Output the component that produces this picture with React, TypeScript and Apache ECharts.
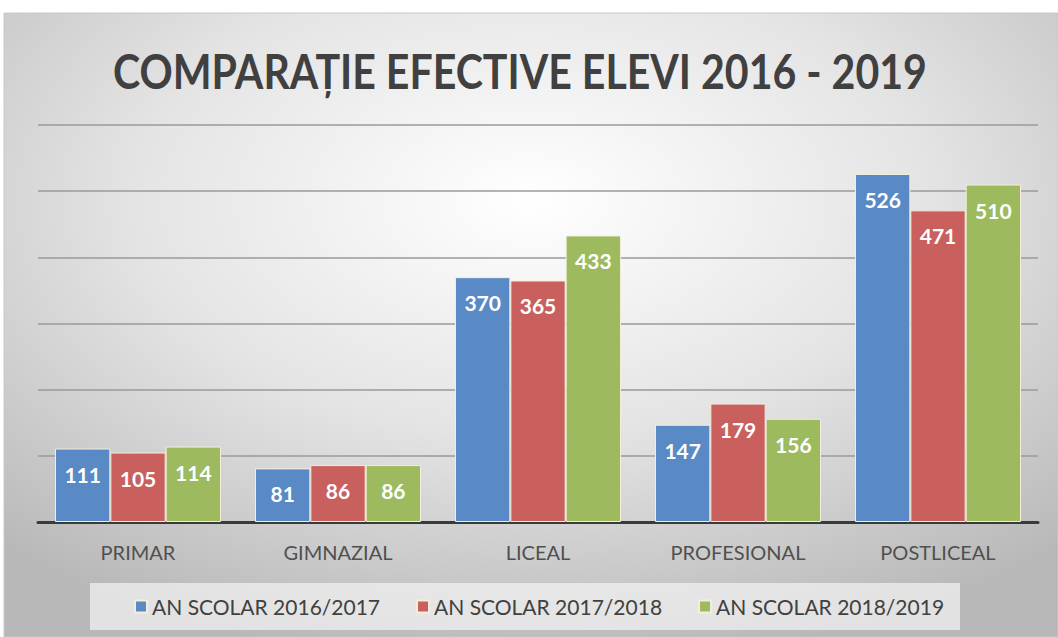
import React, { useEffect, useRef } from "react";
import * as echarts from "echarts";

const titleText = "COMPARAȚIE EFECTIVE ELEVI 2016 - 2019";
const categories = ["PRIMAR", "GIMNAZIAL", "LICEAL", "PROFESIONAL", "POSTLICEAL"];
const seriesNames = ["AN SCOLAR 2016/2017", "AN SCOLAR 2017/2018", "AN SCOLAR 2018/2019"];
const values2016 = [111, 81, 370, 147, 526];
const values2017 = [105, 86, 365, 179, 471];
const values2018 = [114, 86, 433, 156, 510];
const colors = ["#5a8ac6", "#c9605d", "#9dbb5e"];

export default function App() {
  const ref = useRef<HTMLDivElement>(null);
  useEffect(() => {
    if (!ref.current) return;
    const chart = echarts.init(ref.current, undefined, { renderer: "svg" });
    const data = [values2016, values2017, values2018];
    chart.setOption({
      animation: false,
      backgroundColor: "#ffffff",
      graphic: [
        {
          type: "rect",
          z: -10,
          silent: true,
          shape: { x: 4, y: 13, width: 1054, height: 624 },
          style: {
            fill: new echarts.graphic.RadialGradient(0.5, 0.3, 0.75, [
              { offset: 0, color: "#ffffff" },
              { offset: 0.5, color: "#e4e4e4" },
              { offset: 1, color: "#b8b8b8" },
            ]),
            stroke: "#c8c8c8",
            lineWidth: 1,
          },
        },
        {
          type: "rect",
          z: -5,
          silent: true,
          shape: { x: 90, y: 583, width: 870, height: 47 },
          style: { fill: "rgba(240,240,240,0.75)" },
        },
        {
          type: "text",
          x: 113,
          y: 47,
          scaleX: 0.856,
          style: {
            text: titleText,
            fontFamily: "Lato",
            fontWeight: "bold",
            fontSize: 48,
            fill: "#404040",
          },
        },
      ],
      legend: {
        data: seriesNames,
        top: 591,
        left: 129,
        itemWidth: 12,
        itemHeight: 12,
        itemGap: 36,
        icon: "rect",
        textStyle: { fontFamily: "Lato", fontSize: 21, color: "#404040" },
      },
      grid: { left: 38, right: 20, top: 125, bottom: 115 },
      xAxis: {
        type: "category",
        data: categories,
        axisTick: { show: false },
        axisLine: { lineStyle: { color: "#3a3a3a", width: 3 } },
        axisLabel: { fontFamily: "Lato", fontSize: 20, color: "#505050", margin: 20 },
      },
      yAxis: {
        type: "value",
        min: 0,
        max: 600,
        interval: 100,
        axisLabel: { show: false },
        axisLine: { show: false },
        axisTick: { show: false },
        splitLine: { lineStyle: { color: "#9a9a9a", width: 1.5 } },
      },
      series: data.map((d, i) => ({
        name: seriesNames[i],
        type: "bar",
        data: d,
        barGap: "0%",
        barCategoryGap: "17%",
        itemStyle: { color: colors[i], borderColor: "#f3eedc", borderWidth: 1 },
        label: {
          show: true,
          position: "insideTop",
          distance: 15,
          color: "#ffffff",
          fontFamily: "Lato",
          fontWeight: "bold",
          fontSize: 21,
        },
      })),
    });
    return () => chart.dispose();
  }, []);
  return (
    <div
      ref={ref}
      style={{ position: "absolute", left: 0, top: 0, width: 1058, height: 637 }}
    />
  );
}
